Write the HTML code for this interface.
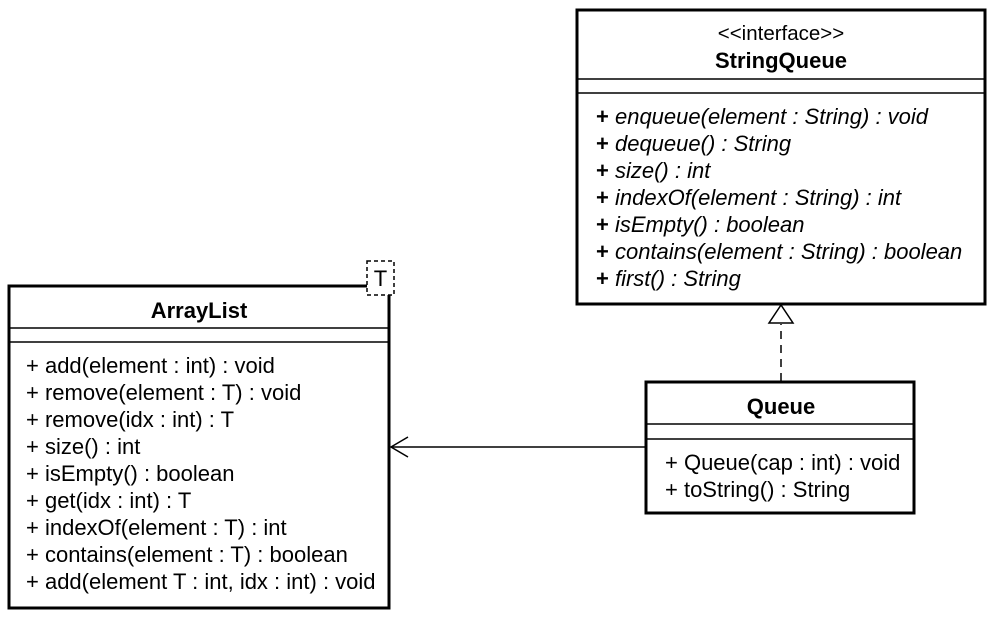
<!DOCTYPE html>
<html><head><style>body{margin:0;background:#fff}</style></head><body>
<svg width="993" height="617" xmlns="http://www.w3.org/2000/svg" font-family="Liberation Sans, Arial, sans-serif" font-size="22" fill="#000">
<rect width="993" height="617" fill="#fff"/>
<!-- ArrayList -->
<rect x="9" y="286" width="380" height="322" fill="#fff" stroke="#000" stroke-width="3"/>
<line x1="9" y1="328" x2="389" y2="328" stroke="#000" stroke-width="1.5"/>
<line x1="9" y1="342" x2="389" y2="342" stroke="#000" stroke-width="1.5"/>
<rect x="367" y="261" width="27" height="34" fill="#fff" stroke="#000" stroke-width="1.5" stroke-dasharray="4,3"/>
<text x="380.5" y="286" text-anchor="middle">T</text>
<text x="199" y="318" text-anchor="middle" font-weight="bold">ArrayList</text>
<g>
<text x="26" y="373">+ add(element : int) : void</text>
<text x="26" y="400">+ remove(element : T) : void</text>
<text x="26" y="427">+ remove(idx : int) : T</text>
<text x="26" y="454">+ size() : int</text>
<text x="26" y="481">+ isEmpty() : boolean</text>
<text x="26" y="508">+ get(idx : int) : T</text>
<text x="26" y="535">+ indexOf(element : T) : int</text>
<text x="26" y="562">+ contains(element : T) : boolean</text>
<text x="26" y="589">+ add(element T : int, idx : int) : void</text>
</g>
<!-- StringQueue -->
<rect x="577" y="10" width="408" height="294" fill="#fff" stroke="#000" stroke-width="3"/>
<line x1="577" y1="79" x2="985" y2="79" stroke="#000" stroke-width="1.5"/>
<line x1="577" y1="93" x2="985" y2="93" stroke="#000" stroke-width="1.5"/>
<text x="781" y="40" text-anchor="middle" font-size="20.5">&lt;&lt;interface&gt;&gt;</text>
<text x="781" y="68" text-anchor="middle" font-weight="bold">StringQueue</text>
<g font-style="italic">
<text x="596" y="124"><tspan font-weight="bold" font-style="normal">+</tspan> enqueue(element : String) : void</text>
<text x="596" y="151"><tspan font-weight="bold" font-style="normal">+</tspan> dequeue() : String</text>
<text x="596" y="178"><tspan font-weight="bold" font-style="normal">+</tspan> size() : int</text>
<text x="596" y="205"><tspan font-weight="bold" font-style="normal">+</tspan> indexOf(element : String) : int</text>
<text x="596" y="232"><tspan font-weight="bold" font-style="normal">+</tspan> isEmpty() : boolean</text>
<text x="596" y="259"><tspan font-weight="bold" font-style="normal">+</tspan> contains(element : String) : boolean</text>
<text x="596" y="286"><tspan font-weight="bold" font-style="normal">+</tspan> first() : String</text>
</g>
<!-- Queue -->
<rect x="646" y="382" width="268" height="131" fill="#fff" stroke="#000" stroke-width="3"/>
<line x1="646" y1="424" x2="914" y2="424" stroke="#000" stroke-width="1.5"/>
<line x1="646" y1="439" x2="914" y2="439" stroke="#000" stroke-width="1.5"/>
<text x="781" y="414" text-anchor="middle" font-weight="bold">Queue</text>
<text x="665" y="470">+ Queue(cap : int) : void</text>
<text x="665" y="497">+ toString() : String</text>
<!-- realization -->
<line x1="781" y1="381" x2="781" y2="324" stroke="#000" stroke-width="1.5" stroke-dasharray="8,6"/>
<polygon points="781,305 769,323 793,323" fill="#fff" stroke="#000" stroke-width="1.5"/>
<!-- association -->
<line x1="646" y1="447" x2="391" y2="447" stroke="#000" stroke-width="1.5"/>
<polyline points="408,437 391,447 408,457" fill="none" stroke="#000" stroke-width="1.5"/>
</svg>
</body></html>
